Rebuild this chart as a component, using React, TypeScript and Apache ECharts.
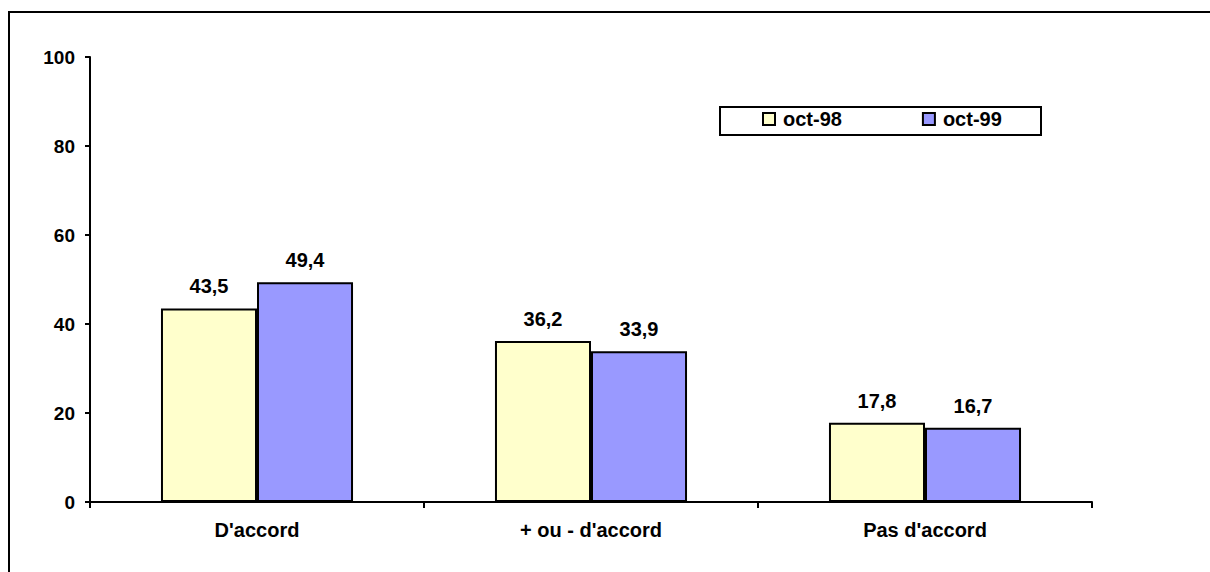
import React, { useEffect, useRef } from "react";
import * as echarts from "echarts";

const categories = ["D'accord", "+ ou - d'accord", "Pas d'accord"];
const seriesNames = ["oct-98", "oct-99"];
const oct98 = [43.5, 36.2, 17.8];
const oct99 = [49.4, 33.9, 16.7];
const yTicks = [0, 20, 40, 60, 80, 100];

const FONT = "'Liberation Sans', Arial, sans-serif";

export default function App() {
  const ref = useRef<HTMLDivElement>(null);
  useEffect(() => {
    if (!ref.current) return;
    const chart = echarts.init(ref.current, null, { renderer: "svg" });
    const label = {
      show: true,
      position: "top",
      distance: 12,
      color: "#000",
      fontFamily: FONT,
      fontWeight: "bold",
      fontSize: 20,
      formatter: (p: any) => String(p.value).replace(".", ","),
    };
    chart.setOption({
      animation: false,
      backgroundColor: "#fff",
      textStyle: { fontFamily: FONT },
      grid: { left: 90, right: 118, top: 57, bottom: 70, containLabel: false },
      graphic: [
        {
          type: "rect",
          shape: { x: 9, y: 12, width: 1400, height: 800 },
          style: { fill: "none", stroke: "#000", lineWidth: 2 },
          silent: true,
          z: 0,
        },
        {
          type: "rect",
          shape: { x: 720, y: 107, width: 321, height: 28 },
          style: { fill: "#fff", stroke: "#000", lineWidth: 2 },
          silent: true,
          z: 1,
        },
      ],
      legend: {
        data: seriesNames,
        left: 762,
        top: 109,
        padding: [0, 0, 0, 0],
        itemWidth: 12,
        itemHeight: 12,
        itemGap: 80,
        icon: "rect",
        z: 5,
        textStyle: {
          color: "#000",
          fontFamily: FONT,
          fontWeight: "bold",
          fontSize: 20,
          padding: [0, 0, 0, 3],
        },
        itemStyle: { borderColor: "#000", borderWidth: 2 },
      },
      xAxis: {
        type: "category",
        data: categories,
        axisLine: { show: true, lineStyle: { color: "#000", width: 2 } },
        axisTick: { show: true, alignWithLabel: false, length: 6, lineStyle: { color: "#000", width: 2 } },
        axisLabel: {
          color: "#000",
          fontFamily: FONT,
          fontWeight: "bold",
          fontSize: 20,
          margin: 18,
        },
        splitLine: { show: false },
      },
      yAxis: {
        type: "value",
        min: yTicks[0],
        max: yTicks[yTicks.length - 1],
        interval: 20,
        axisLine: { show: true, lineStyle: { color: "#000", width: 2 } },
        axisTick: { show: true, length: 5, lineStyle: { color: "#000", width: 2 } },
        axisLabel: {
          color: "#000",
          fontFamily: FONT,
          fontWeight: "bold",
          fontSize: 19,
          margin: 15,
        },
        splitLine: { show: false },
      },
      series: [
        {
          name: seriesNames[0],
          type: "bar",
          data: oct98,
          barGap: "0%",
          barCategoryGap: "42.5%",
          itemStyle: { color: "#FFFFCC", borderColor: "#000", borderWidth: 2 },
          label,
        },
        {
          name: seriesNames[1],
          type: "bar",
          data: oct99,
          barGap: "0%",
          barCategoryGap: "42.5%",
          itemStyle: { color: "#9999FF", borderColor: "#000", borderWidth: 2 },
          label,
        },
      ],
    });
    return () => chart.dispose();
  }, []);
  return (
    <div
      ref={ref}
      style={{ position: "absolute", left: 0, top: 0, width: 1210, height: 572 }}
    />
  );
}
